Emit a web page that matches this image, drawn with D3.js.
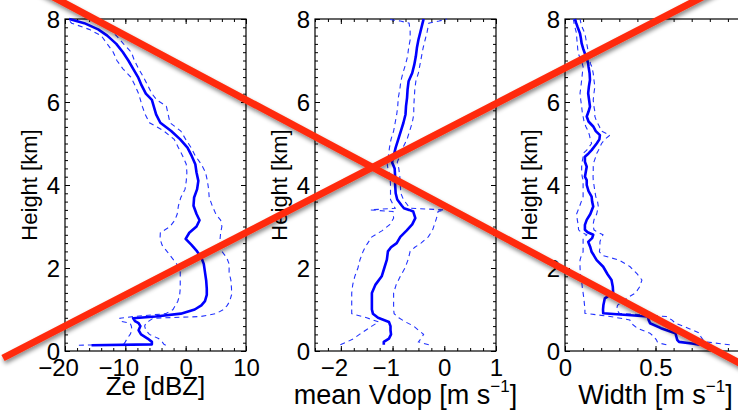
<!DOCTYPE html>
<html>
<head>
<meta charset="utf-8">
<script src="https://cdn.jsdelivr.net/npm/d3@7"></script>
<style>
  html, body { margin: 0; padding: 0; background: #fff; }
  svg { display: block; font-family: "Liberation Sans", Arial, Helvetica, sans-serif; }
</style>
</head>
<body>
<svg id="chart" width="738" height="410"></svg>
<script>
// ---- Profile data: height (km) vs. mean and ±spread bounds ----

// Reflectivity Ze [dBZ]
const zeHeight = [0.14,0.16,0.22,0.3,0.4,0.5,0.6,0.67,0.72,0.79,0.83,0.9,1.0,1.1,1.2,1.35,1.5,1.7,1.9,2.1,2.25,2.4,2.55,2.7,2.85,3.0,3.15,3.3,3.5,3.7,3.9,4.1,4.3,4.5,4.7,4.9,5.1,5.3,5.5,5.7,5.9,6.05,6.2,6.4,6.6,6.8,7.0,7.2,7.4,7.6,7.75,7.9,8.0];
const zeMean = [-15.6,-5.6,-5.6,-6.3,-7.4,-7.8,-7.5,-7.8,-8.4,-8.7,-5.0,-0.8,1.5,2.6,3.2,3.5,3.5,3.4,3.2,3.0,2.6,1.9,1.0,0.0,0.6,1.8,2.3,1.8,1.3,1.4,1.9,2.1,1.8,1.6,1.0,0.3,-0.9,-2.4,-4.2,-4.9,-5.3,-5.6,-6.6,-7.3,-7.9,-8.7,-9.5,-10.4,-11.5,-13.0,-14.5,-16.8,-19.3];
const zeLow = [-17.7,-10.3,-10.0,-9.7,-9.2,-8.9,-9.0,-9.2,-10.9,-10.9,-8.7,-3.3,-2.1,-1.7,-1.3,-1.0,-0.9,-0.9,-0.9,-1.5,-2.3,-3.1,-3.9,-4.25,-4.2,-2.6,-1.8,-1.4,-1.2,-0.8,-0.1,0.1,0.2,0.1,-0.5,-1.2,-1.9,-3.6,-6.0,-6.7,-7.2,-7.5,-7.8,-8.4,-9.1,-10.4,-11.4,-12.0,-13.0,-14.0,-16.0,-18.9,-19.6];
const zeHigh = [-3.3,-3.6,-3.9,-4.5,-6.0,-6.6,-6.8,-6.6,-6.1,-5.4,2.4,5.0,6.3,6.9,7.3,7.6,7.6,7.5,7.2,7.2,6.8,6.0,5.7,5.7,5.8,6.0,5.8,5.0,4.4,3.9,3.8,3.6,3.3,2.6,1.6,0.9,0.0,-0.8,-2.6,-2.9,-3.2,-4.8,-5.6,-6.3,-7.0,-7.8,-8.5,-9.0,-10.3,-11.5,-12.6,-14.2,-16.0];

// Mean Doppler velocity [m s-1]
const vdHeight = [0.15,0.22,0.3,0.4,0.5,0.6,0.7,0.8,0.9,1.0,1.2,1.4,1.6,1.8,2.0,2.2,2.4,2.5,2.6,2.75,2.9,3.05,3.2,3.36,3.4,3.44,3.5,3.65,3.8,4.0,4.2,4.4,4.55,4.7,4.9,5.1,5.3,5.5,5.7,5.9,6.1,6.3,6.5,6.7,6.9,7.1,7.3,7.5,7.7,7.9,7.95,8.0];
const vdMean = [-1.17,-1.17,-1.07,-1.03,-1.04,-1.04,-1.07,-1.28,-1.38,-1.40,-1.40,-1.40,-1.33,-1.21,-1.16,-1.11,-1.09,-1.03,-0.92,-0.85,-0.73,-0.62,-0.56,-0.60,-0.68,-0.78,-0.82,-0.91,-0.94,-0.95,-0.95,-0.96,-1.01,-0.98,-0.94,-0.89,-0.84,-0.79,-0.75,-0.74,-0.72,-0.71,-0.69,-0.62,-0.58,-0.55,-0.53,-0.50,-0.46,-0.42,-0.41,-0.40];
const vdLow = [-2.01,-1.88,-1.75,-1.64,-1.52,-1.40,-1.27,-1.50,-1.79,-1.79,-1.79,-1.79,-1.77,-1.73,-1.67,-1.63,-1.57,-1.53,-1.48,-1.40,-1.20,-1.05,-0.98,-0.99,-1.43,-0.95,-0.98,-1.04,-1.04,-1.04,-1.05,-1.09,-1.11,-1.08,-1.06,-1.03,-0.98,-0.95,-0.92,-0.90,-0.89,-0.86,-0.84,-0.80,-0.75,-0.71,-0.69,-0.66,-0.66,-0.68,-0.85,-1.10];
const vdHigh = [-0.30,-0.50,-0.45,-0.40,-0.50,-0.59,-0.75,-0.88,-0.97,-0.98,-0.98,-0.98,-0.93,-0.85,-0.76,-0.70,-0.66,-0.57,-0.45,-0.31,-0.23,-0.19,-0.15,-0.12,0.00,-0.66,-0.70,-0.79,-0.84,-0.85,-0.86,-0.88,-0.91,-0.86,-0.80,-0.72,-0.67,-0.62,-0.59,-0.59,-0.58,-0.57,-0.55,-0.50,-0.47,-0.44,-0.41,-0.37,-0.33,-0.30,-0.10,0.05];

// Doppler spectrum width [m s-1]
const swHeight = [0.15,0.18,0.22,0.27,0.35,0.43,0.55,0.67,0.75,0.83,0.91,1.0,1.1,1.27,1.4,1.55,1.71,1.85,2.03,2.19,2.3,2.39,2.5,2.63,2.72,2.8,2.86,2.92,3.04,3.16,3.3,3.48,3.6,3.72,3.85,4.0,4.12,4.2,4.32,4.44,4.56,4.68,4.76,4.84,5.0,5.1,5.2,5.3,5.41,5.53,5.65,5.77,5.89,6.05,6.21,6.37,6.53,6.69,6.85,6.93,7.05,7.17,7.29,7.41,7.53,7.65,7.8,7.9,8.0];
const swMean = [0.744,0.70,0.63,0.62,0.615,0.61,0.53,0.47,0.462,0.459,0.211,0.21,0.212,0.22,0.266,0.264,0.257,0.235,0.211,0.175,0.16,0.147,0.14,0.128,0.15,0.156,0.125,0.11,0.11,0.12,0.14,0.156,0.15,0.147,0.13,0.12,0.12,0.11,0.115,0.12,0.11,0.11,0.13,0.147,0.175,0.19,0.193,0.17,0.156,0.13,0.12,0.13,0.138,0.133,0.128,0.132,0.138,0.136,0.13,0.128,0.12,0.11,0.10,0.092,0.088,0.083,0.07,0.062,0.055];
const swLow = [0.56,0.53,0.51,0.505,0.49,0.469,0.40,0.365,0.358,0.25,0.11,0.11,0.108,0.104,0.10,0.095,0.092,0.085,0.083,0.083,0.09,0.10,0.10,0.10,0.10,0.12,0.09,0.075,0.073,0.068,0.064,0.08,0.09,0.10,0.10,0.10,0.10,0.095,0.092,0.092,0.095,0.10,0.10,0.12,0.147,0.14,0.135,0.128,0.115,0.105,0.10,0.095,0.092,0.087,0.083,0.088,0.092,0.096,0.10,0.095,0.085,0.073,0.07,0.068,0.065,0.064,0.055,0.05,0.046];
const swHigh = [0.91,0.85,0.78,0.762,0.75,0.744,0.68,0.61,0.59,0.56,0.30,0.285,0.29,0.34,0.39,0.413,0.425,0.40,0.36,0.30,0.21,0.19,0.193,0.193,0.20,0.21,0.18,0.16,0.155,0.16,0.175,0.184,0.18,0.17,0.165,0.16,0.156,0.155,0.156,0.156,0.16,0.17,0.175,0.185,0.202,0.22,0.248,0.20,0.19,0.175,0.165,0.165,0.16,0.156,0.16,0.165,0.16,0.156,0.148,0.14,0.138,0.13,0.125,0.12,0.115,0.11,0.095,0.088,0.083];

// Axis ticks (the width axis runs to 1, just past the page edge)
const heightTicks = [0, 2, 4, 6, 8];
const zeTicks = [-20, -10, 0, 10];
const vdTicks = [-2, -1, 0, 1];
const swTicks = [0, 0.5];

// Axis titles
const yTitle = "Height [km]";
const xTitles = [
  { main: "Ze [dBZ]" },
  { main: "mean Vdop [m s", sup: "\u22121", tail: "]" },
  { main: "Width [m s", sup: "\u22121", tail: "]" }
];

// Red cross drawn over the figure (endpoints in page pixels)
const crossStrokes = [
  [[40, -10], [760, 374]],
  [[3, 358], [720, -12]]
];

// ---- Layout ----
const svg = d3.select("#chart");
const plotTop = 19, plotBottom = 351, plotW = 181;
const panelLefts = [65, 315, 565];

const y = d3.scaleLinear().domain([0, 8]).range([plotBottom, plotTop]);

const panels = [
  { x: d3.scaleLinear().domain([-20, 10]), h: zeHeight, mean: zeMean, low: zeLow, high: zeHigh, ticks: zeTicks, minor: 2, fmt: d3.format("d"), titleY: 395, titleSize: 26 },
  { x: d3.scaleLinear().domain([-2.5, 1]), h: vdHeight, mean: vdMean, low: vdLow, high: vdHigh, ticks: vdTicks, minor: 0.25, fmt: d3.format("d"), titleY: 404, titleSize: 27 },
  { x: d3.scaleLinear().domain([0, 1]), h: swHeight, mean: swMean, low: swLow, high: swHigh, ticks: swTicks, minor: 0.1, fmt: d3.format("~g"), titleY: 404, titleSize: 27 }
];

const tickFont = 24, yTitleFont = 22;
const majorLen = 5, minorLen = 3;
const minorY = d3.range(0, 8.0001, 0.2);

// measuring helper for label centering on the digits
const measurer = svg.append("text").attr("font-size", tickFont).attr("visibility", "hidden");
function textWidth(s) { measurer.text(s); return measurer.node().getComputedTextLength(); }

panels.forEach((p, i) => {
  const left = panelLefts[i];
  p.x.range([left, left + plotW]);
  const g = svg.append("g");

  const xMinor = d3.range(p.x.domain()[0], p.x.domain()[1] + 1e-9, p.minor);

  // inward ticks on all four sides
  const addAxis = (axis, tx, ty, cls) => {
    const a = g.append("g").attr("class", cls).attr("transform", `translate(${tx},${ty})`).call(axis);
    a.select(".domain").remove();
    a.selectAll("line").attr("stroke", "#000").attr("stroke-width", 1);
    return a;
  };
  addAxis(d3.axisBottom(p.x).tickValues(xMinor).tickSize(-minorLen).tickFormat(""), 0, plotBottom, "minor");
  addAxis(d3.axisTop(p.x).tickValues(xMinor).tickSize(-minorLen).tickFormat(""), 0, plotTop, "minor");
  addAxis(d3.axisLeft(y).tickValues(minorY).tickSize(-minorLen).tickFormat(""), left, 0, "minor");
  addAxis(d3.axisRight(y).tickValues(minorY).tickSize(-minorLen).tickFormat(""), left + plotW, 0, "minor");
  addAxis(d3.axisTop(p.x).tickValues(p.ticks).tickSize(-majorLen).tickFormat(""), 0, plotTop, "major");
  addAxis(d3.axisRight(y).tickValues(heightTicks).tickSize(-majorLen).tickFormat(""), left + plotW, 0, "major");

  const xb = addAxis(d3.axisBottom(p.x).tickValues(p.ticks).tickSize(-majorLen).tickPadding(8).tickFormat(p.fmt), 0, plotBottom, "major");
  xb.selectAll("text")
    .attr("font-size", tickFont).attr("fill", "#000")
    .attr("font-family", "Liberation Sans, Arial, sans-serif")
    .attr("dy", "0.71em")
    .each(function(d) {
      const s = p.fmt(d);
      if (d < 0) {
        // digits centred on the tick, minus sign hanging to the left
        const w = textWidth(s.replace("\u2212", ""));
        d3.select(this).attr("text-anchor", "end").attr("x", w / 2);
      }
    });

  const yl = addAxis(d3.axisLeft(y).tickValues(heightTicks).tickSize(-majorLen).tickPadding(5).tickFormat(d3.format("d")), left, 0, "major");
  yl.selectAll("text")
    .attr("font-size", tickFont).attr("fill", "#000")
    .attr("font-family", "Liberation Sans, Arial, sans-serif")
    .attr("dy", "0.36em");

  // frame
  g.append("rect")
    .attr("x", left).attr("y", plotTop)
    .attr("width", plotW).attr("height", plotBottom - plotTop)
    .attr("fill", "none").attr("stroke", "#000").attr("stroke-width", 1.2);

  // profile curves
  const line = vals => d3.line()
    .x((d, k) => p.x(vals[k]))
    .y(d => y(d))(p.h);

  g.append("path").attr("d", line(p.low))
    .attr("fill", "none").attr("stroke", "#2233ff").attr("stroke-width", 1.1)
    .attr("stroke-dasharray", "5,4");
  g.append("path").attr("d", line(p.high))
    .attr("fill", "none").attr("stroke", "#2233ff").attr("stroke-width", 1.1)
    .attr("stroke-dasharray", "5,4");
  g.append("path").attr("d", line(p.mean))
    .attr("fill", "none").attr("stroke", "#0000ff").attr("stroke-width", 2.6)
    .attr("stroke-linejoin", "round");

  // axis titles
  g.append("text")
    .attr("transform", `translate(${left - 28},${(plotTop + plotBottom) / 2}) rotate(-90)`)
    .attr("text-anchor", "middle").attr("font-size", yTitleFont).attr("fill", "#000")
    .text(yTitle);

  const t = xTitles[i];
  const xt = g.append("text")
    .attr("x", left + plotW / 2).attr("y", p.titleY)
    .attr("text-anchor", "middle").attr("font-size", p.titleSize).attr("fill", "#000");
  xt.append("tspan").text(t.main);
  if (t.sup) {
    xt.append("tspan").attr("font-size", 17).attr("dy", -12).text(t.sup);
    xt.append("tspan").attr("dy", 12).text(t.tail);
  }
});

measurer.remove();

// ---- red cross overlay ----
const defs = svg.append("defs");
const f = defs.append("filter").attr("id", "shadow")
  .attr("x", "-10%").attr("y", "-10%").attr("width", "120%").attr("height", "120%");
f.append("feDropShadow")
  .attr("dx", 1).attr("dy", 3).attr("stdDeviation", 2.2)
  .attr("flood-color", "#000").attr("flood-opacity", 0.45);

svg.append("g").attr("filter", "url(#shadow)")
  .selectAll("line").data(crossStrokes).join("line")
  .attr("x1", d => d[0][0]).attr("y1", d => d[0][1])
  .attr("x2", d => d[1][0]).attr("y2", d => d[1][1])
  .attr("stroke", "#ff2a0a").attr("stroke-width", 7)
  .attr("stroke-linecap", "butt");
</script>
</body>
</html>
